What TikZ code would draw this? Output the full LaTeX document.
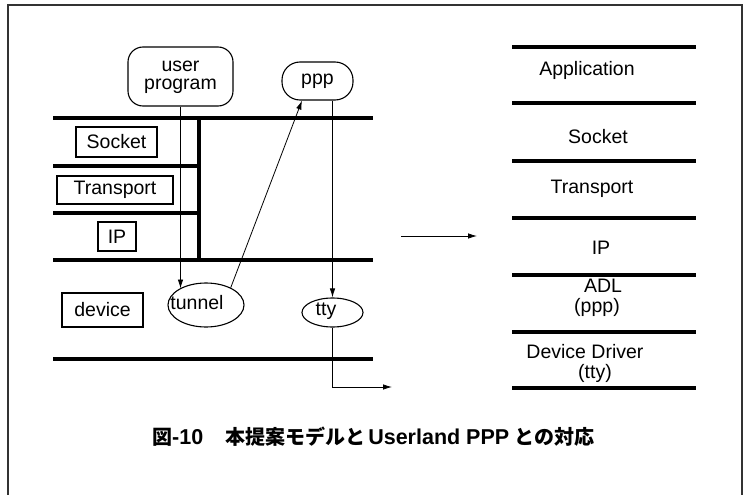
\documentclass[tikz,border=0pt]{standalone}
\usepackage{fontspec}
\setmainfont{Liberation Sans}
\newfontfamily\capcjk{Noto Sans CJK JP}
\usetikzlibrary{arrows.meta,shapes.geometric}

\tikzset{
  lbl/.style={font=\fontsize{19.5}{20}\selectfont, inner sep=0pt, align=center},
  layerbox/.style={draw, line width=1.1pt, inner sep=0pt, font=\fontsize{19.5}{20}\selectfont},
  procbox/.style={draw, line width=1.1pt, rounded corners=15pt, inner sep=0pt, font=\fontsize{19.5}{19}\selectfont, align=center},
  drv/.style={draw, ellipse, line width=1.1pt, inner sep=0pt},
  thickline/.style={line width=3.2pt},
  flow/.style={line width=0.8pt, -{Latex[length=9pt,width=5.5pt]}},
}

\begin{document}
\begin{tikzpicture}[x=1pt, y=-1pt]
\useasboundingbox (0,0) rectangle (747,495);

% frame (open at the bottom)
\draw[line width=1.3pt, black!80] (8,495) -- (8,5) -- (742,5) -- (742,495);

% ---- left: protocol stack with user-level ppp ----
\draw[thickline] (53,118) -- (373,118);
\draw[thickline] (53,166) -- (199,166);
\draw[thickline] (53,213) -- (199,213);
\draw[thickline] (53,260) -- (373,260);
\draw[thickline] (199,118) -- (199,260);
\draw[thickline] (53,359) -- (373,359);

\node[layerbox, minimum width=81pt, minimum height=30pt] (sock) at (116.5,142) {Socket};
\node[layerbox, minimum width=116pt, minimum height=28pt] (trans) at (115,190) {Transport};
\node[layerbox, minimum width=38pt, minimum height=29pt] (ip) at (117,236.5) {IP};
\node[layerbox, minimum width=81pt, minimum height=34pt] (dev) at (102.5,310) {device};

\node[procbox, minimum width=105pt, minimum height=59pt] (up) at (180.5,76.5) {};
\node[lbl] (uptxt1) at (180.5,66) {user};
\node[lbl] (uptxt2) at (180.5,86) {program};
\node[procbox, rounded corners=18pt, minimum width=71pt, minimum height=38pt] (ppp) at (317.5,81) {ppp};

\node[drv, minimum width=76pt, minimum height=44pt] (tunnel) at (206,305) {};
\node[lbl] (tunneltxt) at (197,303) {tunnel};
\node[drv, minimum width=61pt, minimum height=29pt] (tty) at (332.5,312.5) {};
\node[lbl] (ttytxt) at (326,311) {tty};

\coordinate (ttyout) at (392,387);

\draw[flow] (up.south) -- (up.south |- tunnel.148);
\draw[flow] (tunnel.35) -- ([xshift=-15.5pt]ppp.south);
\draw[flow] (ppp.south -| tty.north) -- (tty.north);
\draw[flow] (tty.south) |- (ttyout);

% ---- correspondence arrow ----
\coordinate (mapA) at (401,236);
\coordinate (mapB) at (477,236);
\draw[flow] (mapA) -- (mapB);

% ---- right: equivalent layer model ----
\foreach \yy in {47,103,161,218,275,332,388}
  \draw[thickline] (512,\yy) -- (696,\yy);

\node[lbl] (rapp) at (587,70) {Application};
\node[lbl] (rsock) at (598,137) {Socket};
\node[lbl] (rtrans) at (592,189) {Transport};
\node[lbl] (rip) at (601,248) {IP};
\node[lbl] (radl) at (603,286) {ADL};
\node[lbl] (radlp) at (597,307) {(ppp)};
\node[lbl] (rdd) at (585,352) {Device Driver};
\node[lbl] (rddt) at (595,373) {(tty)};

% ---- caption ----
\node[anchor=west, inner sep=0pt] (cap) at (152,437) {%
  {\capcjk\bfseries\fontsize{20}{22}\selectfont 図}%
  {\bfseries\fontsize{21.5}{22}\selectfont -10}%
  \hspace{22pt}%
  {\capcjk\bfseries\fontsize{20}{22}\selectfont 本提案モデルと}%
  \hspace{3pt}%
  {\bfseries\fontsize{21.5}{22}\selectfont Userland PPP}%
  \hspace{5pt}%
  {\capcjk\bfseries\fontsize{20}{22}\selectfont との対応}};
\end{tikzpicture}
\end{document}
